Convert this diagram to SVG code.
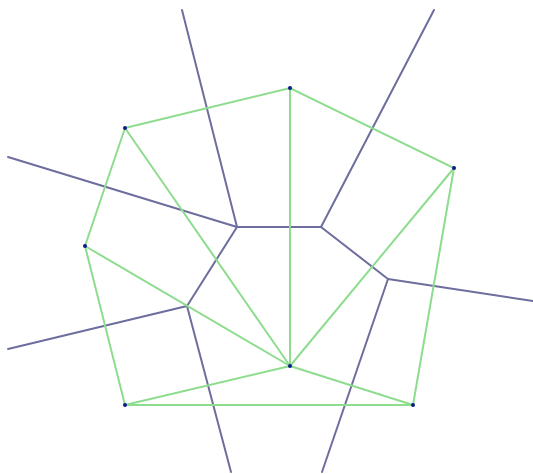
<svg xmlns="http://www.w3.org/2000/svg" width="533" height="474" viewBox="0 0 533 474">
<style>
.d{stroke:#8edc8e;stroke-width:2;fill:none;stroke-linecap:round}
.v{stroke:#6d6d9e;stroke-width:2;fill:none;stroke-linecap:round}
.p{fill:#0b1a8a}
</style>
<rect width="533" height="474" fill="#ffffff"/>
<g id="connectors">
<g id="voronoi">
<line class="v" x1="182" y1="10" x2="237" y2="227"/>
<line class="v" x1="8" y1="157" x2="237" y2="227"/>
<line class="v" x1="237" y1="227" x2="321" y2="227"/>
<line class="v" x1="434" y1="10" x2="321" y2="227"/>
<line class="v" x1="237" y1="227" x2="187" y2="306"/>
<line class="v" x1="187" y1="306" x2="8" y2="349"/>
<line class="v" x1="187" y1="306" x2="231" y2="472"/>
<line class="v" x1="321" y1="227" x2="388" y2="279"/>
<line class="v" x1="388" y1="279" x2="533" y2="301"/>
<line class="v" x1="388" y1="279" x2="322" y2="472"/>
</g>
<g id="delaunay">
<polygon class="d" points="125,128 290,88 454,168 413,405 125,405 85,246"/>
<line class="d" x1="290" y1="88" x2="290" y2="366"/>
<line class="d" x1="125" y1="128" x2="290" y2="366"/>
<line class="d" x1="454" y1="168" x2="290" y2="366"/>
<line class="d" x1="85" y1="246" x2="290" y2="366"/>
<line class="d" x1="125" y1="405" x2="290" y2="366"/>
<line class="d" x1="413" y1="405" x2="290" y2="366"/>
</g>
</g>
<g id="p1"><circle class="p" cx="290" cy="88" r="2"/></g>
<g id="p2"><circle class="p" cx="125" cy="128" r="2"/></g>
<g id="p3"><circle class="p" cx="454" cy="168" r="2"/></g>
<g id="p4"><circle class="p" cx="85" cy="246" r="2"/></g>
<g id="p5"><circle class="p" cx="290" cy="366" r="2"/></g>
<g id="p6"><circle class="p" cx="125" cy="405" r="2"/></g>
<g id="p7"><circle class="p" cx="413" cy="405" r="2"/></g>
</svg>
